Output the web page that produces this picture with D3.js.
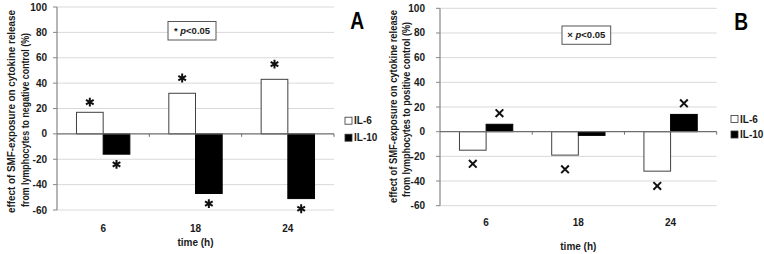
<!DOCTYPE html>
<html lang="en">
<head>
<meta charset="UTF-8"/>
<script src="https://d3js.org/d3.v7.min.js"></script>
<title>SMF cytokine release</title>
<style>
  body { margin: 0; background: #fff; }
  svg text { font-family: "Liberation Sans", Arial, sans-serif; font-weight: bold; fill: #1a1a1a; }
</style>
</head>
<body>
<div id="chart"></div>
<script>
// categories and values
var times = ["6", "18", "24"];
var yTicks = [-60, -40, -20, 0, 20, 40, 60, 80, 100];

// panel A: relative to negative control
var il6A = [17, 32, 43];
var il10A = [-16, -47, -51];
var sigIl6A = [25, 44, 55];
var sigIl10A = [-24, -55, -59];

// panel B: relative to positive control
var il6B = [-15, -19, -32];
var il10B = [6, -3, 14];
var sigIl6B = [-26, -30.5, -44];
var sigIl10B = [15, null, 23];

var width = 764, height = 254;

var svg = d3.select("#chart").append("svg")
  .attr("width", width)
  .attr("height", height);

svg.append("rect").attr("width", width).attr("height", height).attr("fill", "#fff");

function drawPanel(cfg) {
  var g = svg.append("g");

  var x = d3.scaleBand().domain(times).range([cfg.x0, cfg.x1]).padding(0);
  var bw = x.bandwidth();
  var sub = d3.scaleBand().domain(["IL-6", "IL-10"]).range([bw * 0.211, bw * 0.789]);
  var y = d3.scaleLinear().domain([-60, 100]).range([cfg.yBot, cfg.yTop]);

  // gridlines
  g.selectAll(".grid").data(yTicks.filter(function(d) { return d !== 0; }))
    .enter().append("line")
    .attr("x1", cfg.x0).attr("x2", cfg.x1)
    .attr("y1", function(d) { return y(d); }).attr("y2", function(d) { return y(d); })
    .attr("stroke", "#d9d9d9").attr("stroke-width", 1);

  // y axis line + ticks
  g.append("line")
    .attr("x1", cfg.x0).attr("x2", cfg.x0)
    .attr("y1", y(100)).attr("y2", y(-60))
    .attr("stroke", "#868686").attr("stroke-width", 1.2);
  g.selectAll(".ytick").data(yTicks).enter().append("line")
    .attr("x1", cfg.x0 - 4).attr("x2", cfg.x0)
    .attr("y1", function(d) { return y(d); }).attr("y2", function(d) { return y(d); })
    .attr("stroke", "#868686");
  g.selectAll(".ylab").data(yTicks).enter().append("text")
    .attr("x", cfg.labX)
    .attr("y", function(d) { return y(d); })
    .attr("dy", "0.35em")
    .attr("text-anchor", "end")
    .style("font-size", "10px")
    .text(function(d) { return d; });

  // bars
  var il6 = cfg.il6, il10 = cfg.il10;
  g.selectAll(".b6").data(times).enter().append("rect")
    .attr("x", function(d) { return x(d) + sub("IL-6"); })
    .attr("y", function(d, i) { return y(Math.max(0, il6[i])); })
    .attr("width", sub.bandwidth())
    .attr("height", function(d, i) { return Math.abs(y(il6[i]) - y(0)); })
    .attr("fill", "#fff").attr("stroke", "#404040").attr("stroke-width", 1);
  g.selectAll(".b10").data(times).enter().append("rect")
    .attr("x", function(d) { return x(d) + sub("IL-10"); })
    .attr("y", function(d, i) { return y(Math.max(0, il10[i])); })
    .attr("width", sub.bandwidth())
    .attr("height", function(d, i) { return Math.abs(y(il10[i]) - y(0)); })
    .attr("fill", "#000").attr("stroke", "#000").attr("stroke-width", 1);

  // zero line with category ticks
  g.append("line")
    .attr("x1", cfg.x0).attr("x2", cfg.x1)
    .attr("y1", y(0)).attr("y2", y(0))
    .attr("stroke", "#6e6e6e").attr("stroke-width", 1.2);
  g.selectAll(".xtick").data(times).enter().append("line")
    .attr("x1", function(d) { return x(d) + bw; }).attr("x2", function(d) { return x(d) + bw; })
    .attr("y1", y(0)).attr("y2", y(0) + 3)
    .attr("stroke", "#6e6e6e");

  // significance markers
  var sym = d3.symbol().type(cfg.marker).size(cfg.markerSize);
  function marks(vals, key) {
    g.selectAll(".m" + key).data(times).enter()
      .filter(function(d, i) { return vals[i] !== null; })
      .append("path")
      .attr("d", sym)
      .attr("transform", function(d) {
        var i = times.indexOf(d);
        return "translate(" + (x(d) + sub(key) + sub.bandwidth() / 2) + "," + y(vals[i]) + ")";
      })
      .attr("fill", "none").attr("stroke", "#111").attr("stroke-width", 2);
  }
  marks(cfg.sig6, "IL-6");
  marks(cfg.sig10, "IL-10");

  // category labels
  g.selectAll(".xlab").data(times).enter().append("text")
    .attr("x", function(d) { return x(d) + bw / 2; })
    .attr("y", cfg.catY)
    .attr("dy", "0.35em")
    .attr("text-anchor", "middle")
    .style("font-size", "10px")
    .text(function(d) { return d; });
  g.append("text")
    .attr("x", (cfg.x0 + cfg.x1) / 2)
    .attr("y", cfg.timeY)
    .attr("dy", "0.35em")
    .attr("text-anchor", "middle")
    .style("font-size", "10px")
    .text("time (h)");

  // y axis title, two lines
  cfg.yTitle.forEach(function(t) {
    g.append("text")
      .attr("transform", "translate(" + t.x + "," + t.y + ") rotate(-90)")
      .attr("dy", "0.35em")
      .attr("text-anchor", "middle")
      .attr("textLength", t.len)
      .attr("lengthAdjust", "spacingAndGlyphs")
      .style("font-size", "10px")
      .text(t.text);
  });

  // p-value box
  var b = cfg.pbox;
  g.append("rect")
    .attr("x", b.x).attr("y", b.y).attr("width", b.w).attr("height", b.h)
    .attr("fill", "#fff").attr("stroke", "#555").attr("stroke-width", 1);
  var pt = g.append("text")
    .attr("x", b.x + b.w / 2).attr("y", b.y + b.h / 2)
    .attr("dy", "0.35em")
    .attr("text-anchor", "middle")
    .style("font-size", "9.5px");
  pt.append("tspan").text(cfg.pSymbol + " ");
  pt.append("tspan").style("font-style", "italic").text("p");
  pt.append("tspan").text("<0.05");

  // legend
  var legend = [{ key: "IL-6", fill: "#fff", y: cfg.legY[0] }, { key: "IL-10", fill: "#000", y: cfg.legY[1] }];
  legend.forEach(function(l) {
    g.append("rect")
      .attr("x", cfg.legX).attr("y", l.y - 3.5)
      .attr("width", 7).attr("height", 7)
      .attr("fill", l.fill).attr("stroke", "#333").attr("stroke-width", 0.8);
    g.append("text")
      .attr("x", cfg.legX + 9).attr("y", l.y)
      .attr("dy", "0.35em")
      .style("font-size", "10px")
      .text(l.key);
  });

  // panel letter
  g.append("text")
    .attr("transform", "translate(" + cfg.letterX + "," + cfg.letterY + ") scale(0.8,1)")
    .attr("text-anchor", "middle")
    .style("font-size", "24px")
    .style("fill", "#000")
    .text(cfg.letter);
}

drawPanel({
  x0: 57, x1: 334, yTop: 7, yBot: 210, labX: 47,
  il6: il6A, il10: il10A, sig6: sigIl6A, sig10: sigIl10A,
  marker: d3.symbolAsterisk, markerSize: 55,
  catY: 228, timeY: 242,
  yTitle: [
    { x: 11, y: 111.5, len: 203, text: "effect of SMF-exposure on cytokine release" },
    { x: 25, y: 120, len: 174, text: "from lymphocytes to negative control (%)" }
  ],
  pbox: { x: 168, y: 21.5, w: 48, h: 18.5 }, pSymbol: "*",
  legX: 345, legY: [120.7, 137.7],
  letter: "A", letterX: 357.3, letterY: 29
});

drawPanel({
  x0: 440, x1: 716.7, yTop: 8.3, yBot: 205.7, labX: 425,
  il6: il6B, il10: il10B, sig6: sigIl6B, sig10: sigIl10B,
  marker: d3.symbolTimes, markerSize: 40,
  catY: 222.7, timeY: 246,
  yTitle: [
    { x: 393, y: 106.5, len: 193, text: "effect of SMF-exposure on cytokine release" },
    { x: 406, y: 109.5, len: 175, text: "from lymphocytes to positive control (%)" }
  ],
  pbox: { x: 562, y: 26, w: 48.7, h: 18.3 }, pSymbol: "\u00d7",
  legX: 731, legY: [119, 134.5],
  letter: "B", letterX: 741.3, letterY: 30
});
</script>
</body>
</html>
